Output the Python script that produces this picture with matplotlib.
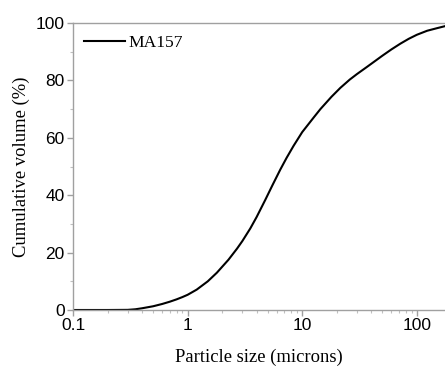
import matplotlib
matplotlib.use("Agg")
import matplotlib.pyplot as plt
from matplotlib.ticker import LogLocator, NullFormatter, FixedLocator, MultipleLocator

# Data
particle_size = [0.1, 0.2, 0.3, 0.35, 0.4, 0.5, 0.6, 0.7, 0.8, 0.9, 1.0, 1.2, 1.5, 1.8,
                 2.27, 2.7, 3.0, 3.52, 4.0, 4.75, 5.5, 6.43, 7.3, 8.4, 10.0, 12.6, 14.4,
                 18.0, 21.5, 26.0, 30.0, 36.7, 42.0, 50.0, 60.0, 71.8, 85.0, 100.0,
                 123.0, 150.0, 176.0]
cumulative_volume = [0.0, 0.0, 0.05, 0.25, 0.6, 1.3, 2.1, 2.9, 3.7, 4.5, 5.3, 7.1, 10.0, 13.0,
                     17.5, 21.4, 24.0, 28.4, 32.4, 38.3, 43.5, 48.9, 53.0, 57.2, 62.0, 67.1, 70.0,
                     74.3, 77.4, 80.3, 82.2, 84.7, 86.4, 88.6, 90.8, 92.8, 94.5, 95.9,
                     97.3, 98.2, 98.9]
series_label = "MA157"
x_ticks = [0.1, 1, 10, 100]
x_tick_labels = ["0.1", "1", "10", "100"]
y_ticks = [0, 20, 40, 60, 80, 100]

fig = plt.figure(figsize=(4.45, 3.67), dpi=100)
ax = fig.add_axes([73/445, 1 - 310/367, 1 - 73/445, (310 - 23)/367])

ax.plot(particle_size, cumulative_volume, color="black", lw=1.5, label=series_label)
ax.set_xscale("log")
ax.set_xlim(0.1, 176)
ax.set_ylim(0, 100)

ax.xaxis.set_major_locator(FixedLocator(x_ticks))
ax.set_xticklabels(x_tick_labels)
ax.xaxis.set_minor_locator(LogLocator(base=10, subs=range(2, 10)))
ax.xaxis.set_minor_formatter(NullFormatter())
ax.set_yticks(y_ticks)
ax.yaxis.set_minor_locator(MultipleLocator(10))

spine_color = "#a0a0a0"
for side in ["left", "bottom", "top"]:
    ax.spines[side].set_color(spine_color)
    ax.spines[side].set_linewidth(1.0)
ax.spines["right"].set_visible(False)

ax.tick_params(axis="both", which="major", direction="out", length=4, width=1,
               color=spine_color, labelsize=12.5, pad=2)
ax.tick_params(axis="both", which="minor", direction="out", length=2, width=0.8,
               color="#c0c0c0")
for lab in ax.get_xticklabels() + ax.get_yticklabels():
    lab.set_fontfamily("Liberation Sans")

ax.set_xlabel("Particle size (microns)", fontfamily="Liberation Serif", fontsize=13.4, labelpad=11)
ax.set_ylabel("Cumulative volume (%)", fontfamily="Liberation Serif", fontsize=13.4, labelpad=4)

leg = ax.legend(loc="upper left", frameon=False, prop={"family": "Liberation Serif", "size": 12.6},
                handlelength=2.3, handletextpad=0.2, borderaxespad=0.25, bbox_to_anchor=(0.0, 1.0))

fig.savefig("out.png", dpi=100)
